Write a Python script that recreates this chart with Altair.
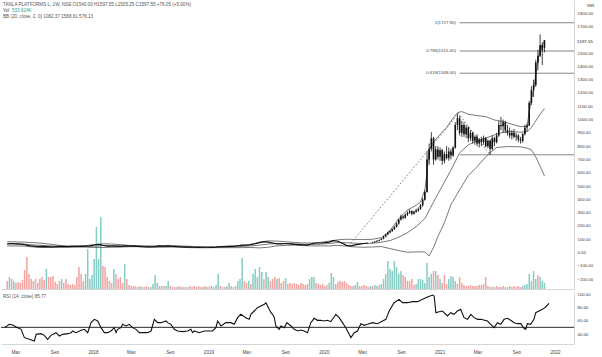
import altair as alt
import pandas as pd

FONT = "Liberation Sans"
TEAL = "#84ccc4"
RED = "#f3a2a0"
INK = "#111111"
BAND = "#555555"
START = pd.Timestamp("2017-03-20")


def wdate(w):
    return START + pd.Timedelta(days=float(w) * 7.0)


# ---------------- data (weekly) ----------------
# closes for the quiet period, every 2 weeks from week 0 to week 166
early_close = [66, 68, 66, 63, 60, 52, 48, 44, 46, 45,
               43, 44, 46, 44, 45, 46, 47, 46, 48, 50,
               57, 62, 55, 49, 48, 49, 47, 50, 49, 50,
               47, 44, 43, 42, 45, 50, 49, 50, 47, 44,
               42, 41, 41, 40, 39, 40, 40, 39, 41, 44,
               45, 46, 46, 51, 56, 55, 60, 66, 75, 82,
               78, 72, 65, 66, 68, 65, 62, 60, 58, 56,
               66, 72, 72, 74, 78, 90, 85, 70, 54, 50,
               58, 64, 68, 72]
early_weeks = list(range(0, 2 * len(early_close), 2))

# weekly candles from week 168 to week 247
candle_start = 168
c_open = [74, 78, 84, 88, 95, 104, 120, 135, 150, 162, 175, 192, 218, 248,
          272, 262, 285, 300, 312, 292, 306, 318, 328, 355, 398, 455, 700, 780,
          860, 700, 775, 720, 770, 690, 740, 710, 760, 730, 790, 960, 1010, 900,
          960, 890, 940, 860, 900, 840, 870, 820, 850, 830, 860, 800, 840, 780,
          860, 830, 880, 960, 950, 980, 920, 900, 880, 900, 870, 880, 850, 840,
          890, 940, 955, 1125, 1220, 1260, 1430, 1480, 1560, 1540]
c_high = [80, 86, 92, 98, 108, 125, 140, 158, 168, 182, 200, 225, 255, 285,
          280, 292, 310, 325, 318, 315, 330, 340, 365, 410, 470, 760, 820, 905,
          870, 800, 800, 790, 780, 760, 800, 790, 780, 800, 980, 1045, 1030, 990,
          980, 960, 950, 920, 910, 880, 890, 860, 870, 880, 870, 850, 850, 880,
          870, 900, 990, 1020, 1000, 990, 960, 940, 920, 930, 900, 890, 870, 900,
          960, 970, 1140, 1250, 1300, 1450, 1525, 1640, 1580, 1597.55]
c_low = [70, 75, 80, 85, 92, 100, 115, 130, 145, 155, 170, 188, 210, 240,
         250, 255, 275, 290, 280, 285, 298, 305, 320, 345, 390, 450, 660, 760,
         660, 690, 700, 690, 660, 670, 700, 690, 700, 720, 780, 920, 880, 870,
         870, 860, 830, 840, 820, 810, 800, 790, 800, 810, 790, 785, 735, 770,
         800, 820, 870, 920, 900, 900, 880, 860, 850, 860, 840, 830, 820, 825,
         880, 910, 950, 1110, 1170, 1245, 1370, 1470, 1410, 1505.25]
c_close = [78, 84, 88, 95, 104, 120, 135, 150, 162, 175, 192, 218, 248, 272,
           262, 285, 300, 312, 292, 306, 318, 328, 355, 398, 455, 700, 780, 860,
           700, 775, 720, 770, 690, 740, 710, 760, 730, 790, 960, 1010, 900, 960,
           890, 940, 860, 900, 840, 870, 820, 850, 830, 860, 800, 840, 780, 860,
           830, 880, 960, 950, 980, 920, 900, 880, 900, 870, 880, 850, 840, 890,
           940, 955, 1125, 1220, 1260, 1430, 1480, 1560, 1521.5, 1597.55]
candle_weeks = list(range(candle_start, candle_start + len(c_open)))

# weekly volume (+ = up week, - = down week), weeks 0..247
vol = [-8, 12, -10, 8, -6, -7, -6, -9, -19, -32,
       -15, -10, -8, -10, -6, -10, -12, -9, 20, -12,
       -12, -13, -7, -5, -8, 10, -6, -10, -5, -4,
       -5, -4, -12, -22, -15, -8, 15, 40, 10, 14,
       30, 62, 30, 72, -23, -22, -12, -8, -6, 20,
       -15, -10, -12, -6, 25, -10, -4, -3, -3, -3,
       -2, -3, 2, -2, -3, 2, -2, 5, 14, 6,
       -3, 3, -3, 3, 8, -3, -2, -2, 2, -3,
       -2, -2, 2, -2, -3, -2, -3, -2, -3, -2,
       2, -3, -2, -3, 3, -2, 4, 15, -3, -2,
       -2, 3, 6, -3, -2, 3, 8, 10, 31, -8,
       -6, 8, -5, 15, 20, 12, 22, 17, -10, 17,
       12, -8, -10, -12, 10, -11, -6, -8, 11, -5,
       -6, -5, -6, -5, -4, -6, -5, -4, -5, 10,
       12, 12, -6, -5, -4, -5, -3, -4, 6, 16,
       12, -5, -7, -8, -7, -8, -6, -4, -3, -3,
       4, 7, -3, -3, -4, -3, -2, 3, -3, 4,
       3, -4, 5, 10, 15, 28, 20, 18, 28, 22,
       15, 18, -14, -12, -8, -8, -10, -4, 5, 10,
       10, 9, 6, 26, 12, 15, -18, 18, -14, 10,
       -6, -14, -5, 10, 13, 12, 8, -5, -12, -6,
       -4, -3, -3, -4, -3, -3, -3, -4, -4, -5,
       -12, -3, -2, 2, -2, -3, -2, 2, -3, -2,
       -2, 3, -2, -3, -2, -3, -2, 3, 4, 5,
       15, 8, 18, 10, -14, 12, 8, 6]

# Bollinger bands (20, 2)
bb_w_early = list(range(0, 169, 4))
up_early = [82, 80, 78, 75, 70, 62, 54, 50, 50, 52,
            60, 66, 64, 60, 54, 52, 50, 50, 52, 52,
            50, 47, 44, 42, 43, 47, 49, 55, 62, 78,
            88, 86, 82, 76, 72, 72, 76, 86, 96, 100,
            98, 98, 100]
mid_early = [66, 65, 63, 58, 54, 50, 47, 45, 45, 46,
             48, 52, 52, 50, 49, 48, 46, 45, 46, 47,
             45, 42, 40, 39, 40, 42, 43, 46, 50, 56,
             64, 68, 68, 66, 62, 61, 63, 68, 75, 74,
             70, 68, 70]
low_early = [50, 50, 48, 42, 38, 38, 40, 40, 41, 41,
             38, 38, 40, 41, 44, 44, 42, 40, 40, 42,
             40, 37, 36, 36, 37, 37, 37, 37, 38, 35,
             40, 50, 54, 56, 52, 50, 50, 50, 54, 48,
             42, 40, 42]
up_w_late = [172, 176, 180, 184, 188, 190, 192, 193, 194, 196, 198, 202, 205, 207, 209,
             212, 216, 220, 224, 228, 232, 236, 239, 240, 241, 242, 243, 244, 245, 246, 247]
up_late = [112, 165, 255, 320, 355, 380, 470, 600, 772, 830, 870, 940, 1010, 1052, 1060,
           1040, 1030, 1022, 997, 985, 965, 947, 950, 1060, 1150, 1230, 1330, 1440, 1530, 1560, 1589]
mid_w_late = [172, 176, 180, 184, 188, 192, 196, 200, 204, 208, 212,
              216, 220, 224, 228, 232, 236, 239, 241, 243, 245, 247]
mid_late = [78, 90, 115, 150, 195, 255, 380, 500, 620, 750, 810,
            840, 860, 885, 905, 910, 905, 910, 940, 990, 1040, 1082]
low_w_late = [172, 176, 180, 184, 188, 192, 194, 196, 198, 201, 204, 208,
              212, 216, 220, 222, 225, 230, 236, 239, 241, 243, 245, 247]
low_late = [45, 30, 15, 2, 5, 5, -25, 40, 120, 225, 360, 472,
            580, 645, 720, 750, 790, 797, 795, 785, 772, 720, 650, 576]

# RSI (14): (week, value)
rsi_w = [1.0, 3.2, 4.7, 7.0, 8.5, 10.0, 12.3, 14.5, 15.3, 17.5, 19.0, 20.5, 22.0, 24.3, 25.8,
         27.3, 29.6, 31.1, 31.8, 33.3, 35.6, 37.1, 38.6, 40.1, 41.6, 43.1, 44.6, 46.1, 47.6,
         49.1, 50.6, 51.4, 52.1, 53.6, 54.4, 55.9, 57.4, 58.9, 60.4, 61.9, 63.4, 65.7, 67.2,
         68.7, 70.2, 71.7, 74.0, 74.7, 76.2, 77.7, 79.2, 81.5, 83.7, 85.2, 86.0, 86.7, 89.0,
         91.2, 92.8, 95.0, 96.5, 97.3, 98.8, 101.0, 103.3, 104.8, 106.3, 107.8, 110.0, 111.6,
         112.3, 113.8, 115.3, 116.8, 118.4, 119.1, 120.6, 121.4, 122.1, 122.9, 123.6, 125.1,
         125.9, 127.4, 128.6, 130.4, 131.9, 133.5, 134.9, 136.4, 137.9, 139.4, 140.9, 142.4,
         143.9, 145.4, 147.0, 148.4, 149.9, 150.7, 152.2, 153.7, 155.2, 156.7, 157.5, 159.0,
         160.5, 162.0, 163.5, 165.0, 167.3, 169.5, 171.8, 173.3, 174.8, 177.0, 179.3, 180.8,
         183.1, 185.3, 187.6, 189.9, 192.1, 194.4, 195.1, 195.9, 197.3, 198.9, 201.1, 202.6,
         204.1, 205.6, 207.1, 208.6, 210.2, 211.7, 213.1, 214.7, 216.2, 219.2, 220.7, 222.2,
         223.7, 225.2, 226.7, 228.2, 229.7, 231.2, 232.7, 234.2, 235.7, 236.5, 237.2, 238.7,
         240.2, 241.0, 242.5, 244.0, 245.5, 247.0]
rsi_v = [49.5, 54.5, 53.5, 49.5, 47, 34.5, 32, 29.5, 39.5, 40.5, 38, 32, 38, 42, 37,
         39.5, 40.5, 42, 44.5, 42, 45.5, 47, 42, 57, 62, 59.5, 49.5, 42, 42,
         44.5, 49.5, 42, 47, 49.5, 54.5, 52, 54.5, 49.5, 47, 42, 42, 42, 44.5,
         62, 57, 57, 59.5, 57, 54.5, 47, 44.5, 43.5, 44.5, 47, 42, 44.5, 42,
         44.5, 44.5, 44.5, 49.5, 59.5, 52, 57, 57, 54.5, 64.5, 69.5, 64.5, 62,
         69.5, 74.5, 79.5, 82, 84.5, 87, 77, 72, 69.5, 64.5, 52, 47,
         52, 49.5, 57, 52, 47, 44.5, 46, 44.5, 42, 57, 63.5, 60.5,
         60.5, 59.5, 60.5, 58.5, 65.5, 69.5, 64.5, 57, 49.5, 39.5, 34.5, 42,
         44.5, 55.5, 53, 54.5, 57, 55.5, 59.5, 62, 74.5, 87, 92, 87,
         87, 88.5, 88.5, 92, 95.5, 98.5, 97, 72, 73.5, 74.5, 67, 72,
         69.5, 74.5, 77, 64.5, 62, 69.5, 64.5, 62, 62, 59.5, 54.5, 49.5,
         57, 54.5, 62, 63.5, 60.5, 57, 55.5, 55.5, 48.5, 47, 55.5, 54.5,
         62, 72, 74.5, 77, 80.5, 85.77]

# Fibonacci extension and its trend line
fib_levels = [1727.90, 1515.40, 1348.40, 735.00]
fib_labels = ["1(1727.90)", "0.786(1515.40)", "0.618(1348.40)", ""]
fib_start_week = 208
fib_label_week = 206.3
trend_w = [157, 207.5, 222]
trend_p = [50, 1045, 735]

header_1 = "TANLA PLATFORMS L, 1W, NSE  O1540.00  H1597.55  L1505.25  C1597.55  +76.05 (+5.00%)"
header_vol = "Vol"
header_vol_val = "533.624K"
header_bb = "BB (20, close, 2, 0)  1082.37  1588.61  576.13"
rsi_title = "RSI (14, close)  85.77"
last_price = "1597.55"
currency = "INR"

# the 1600 label is hidden behind the last-price label, as in the reference
price_ticks = [v for v in range(-200, 1900, 100) if v != 1600]
rsi_ticks = [40, 60, 80, 100]
month_ticks = [(2017, 5), (2017, 9), (2018, 1), (2018, 5), (2018, 9), (2019, 1), (2019, 5),
               (2019, 9), (2020, 1), (2020, 5), (2020, 9), (2021, 1), (2021, 5), (2021, 9), (2022, 1)]

# ---------------- frames ----------------
early_df = pd.DataFrame({"t": [wdate(w) for w in early_weeks], "p": early_close})
cdf = pd.DataFrame({"t": [wdate(w) for w in candle_weeks], "o": c_open, "h": c_high,
                    "l": c_low, "c": c_close})
vol_df = pd.DataFrame({"t": [wdate(i) for i in range(len(vol))],
                       "v": [abs(v) for v in vol],
                       "d": ["up" if v > 0 else "down" for v in vol]})
up_df = pd.DataFrame({"t": [wdate(w) for w in bb_w_early + up_w_late], "p": up_early + up_late})
mid_df = pd.DataFrame({"t": [wdate(w) for w in bb_w_early + mid_w_late], "p": mid_early + mid_late})
low_df = pd.DataFrame({"t": [wdate(w) for w in bb_w_early + low_w_late], "p": low_early + low_late})
rsi_df = pd.DataFrame({"t": [wdate(w) for w in rsi_w], "r": rsi_v})
fib_df = pd.DataFrame({"p": fib_levels, "s": fib_labels,
                       "t": [wdate(fib_start_week)] * len(fib_levels),
                       "tl": [wdate(fib_label_week)] * len(fib_levels)})
trend_df = pd.DataFrame({"t": [wdate(w) for w in trend_w], "p": trend_p})

# ---------------- scales & axes ----------------
W = 573
H_MAIN = 289
H_RSI = 52

xs = alt.Scale(domain=[alt.DateTime(year=2017, month=3, date=16),
                       alt.DateTime(year=2022, month=3, date=2)])
ps = alt.Scale(domain=[-274, 1899], nice=False, zero=False)
rs = alt.Scale(domain=[25, 103], nice=False, zero=False)

mx_axis = alt.Axis(labels=False, ticks=False, domain=True, domainColor="#d6d6d6",
                   grid=False, title=None)
py_axis = alt.Axis(orient="right", values=price_ticks, format=".2f", ticks=False,
                   domain=True, domainColor="#d6d6d6", grid=False, title=None,
                   labelPadding=3, labelFontSize=4.3, labelColor="#333333", labelFont=FONT)
rx_axis = alt.Axis(values=[alt.DateTime(year=y, month=m, date=1) for y, m in month_ticks],
                   labelExpr="month(datum.value) == 0 ? timeFormat(datum.value, '%Y') : timeFormat(datum.value, '%b')",
                   ticks=False, domain=True, domainColor="#d6d6d6", grid=False, title=None,
                   labelFontSize=4.6, labelColor="#444444", labelPadding=5, labelFont=FONT)
ry_axis = alt.Axis(orient="right", values=rsi_ticks, format=".2f", ticks=False,
                   domain=True, domainColor="#d6d6d6", grid=False, title=None,
                   labelPadding=3, labelFontSize=4.3, labelColor="#333333", labelFont=FONT)

X = alt.X("t:T", scale=xs, axis=mx_axis)


def py(field):
    return alt.Y(field, scale=ps, axis=py_axis)


def label(s, x, y, color="#555555", size=4.6, align="left"):
    return alt.Chart(pd.DataFrame({"s": [s]})).mark_text(
        align=align, baseline="middle", fontSize=size, color=color, font=FONT
    ).encode(x=alt.value(x), y=alt.value(y), text="s:N")


# ---------------- main pane ----------------
vol_layer = alt.Chart(vol_df).mark_bar(size=1.5).encode(
    x=X,
    y=alt.Y("v:Q", scale=alt.Scale(domain=[0, H_MAIN], nice=False), axis=None),
    color=alt.Color("d:N", scale=alt.Scale(domain=["up", "down"], range=[TEAL, RED]), legend=None),
)

early_line = alt.Chart(early_df).mark_line(color=INK, strokeWidth=1.2).encode(x=X, y=py("p:Q"))
up_line = alt.Chart(up_df).mark_line(color=BAND, strokeWidth=0.8).encode(x=X, y=py("p:Q"))
mid_line = alt.Chart(mid_df).mark_line(color=BAND, strokeWidth=0.8).encode(x=X, y=py("p:Q"))
low_line = alt.Chart(low_df).mark_line(color=BAND, strokeWidth=0.8).encode(x=X, y=py("p:Q"))
wick = alt.Chart(cdf).mark_rule(color=INK, strokeWidth=0.8).encode(x=X, y=py("l:Q"), y2="h:Q")
body = alt.Chart(cdf).mark_bar(size=1.6, color=INK).encode(x=X, y=py("o:Q"), y2="c:Q")
fib_rule = alt.Chart(fib_df).mark_rule(color="#777777", strokeWidth=0.9).encode(
    x=X, x2=alt.value(W), y=py("p:Q"))
fib_text = alt.Chart(fib_df).mark_text(align="right", baseline="middle", fontSize=4.4,
                                       color="#444444", font=FONT).encode(
    x=alt.X("tl:T", scale=xs, axis=mx_axis), y=py("p:Q"), text="s:N")
trend = alt.Chart(trend_df).mark_line(color="#666666", strokeWidth=0.9,
                                      strokeDash=[1.5, 2]).encode(x=X, y=py("p:Q"))

price_group = alt.layer(
    up_line, mid_line, low_line, early_line, trend, fib_rule, fib_text, wick, body,
    label(header_1, 2, 4.5),
    label(header_vol, 2, 10.5),
    label(header_vol_val, 11, 10.5, color="#26a69a"),
    label(header_bb, 2, 16.5),
    label(currency, 586, 6, color="#333333", size=4.3),
    label(last_price, 576, 42, color="#222222", size=4.4),
)

main = alt.layer(vol_layer, price_group).resolve_scale(y="independent").properties(
    width=W, height=H_MAIN)

# ---------------- RSI pane ----------------
rsi_line = alt.Chart(rsi_df).mark_line(color=INK, strokeWidth=1.1).encode(
    x=alt.X("t:T", scale=xs, axis=rx_axis), y=alt.Y("r:Q", scale=rs, axis=ry_axis))
rule50 = alt.Chart(pd.DataFrame({"r": [50]})).mark_rule(color=INK, strokeWidth=0.9).encode(
    y=alt.Y("r:Q", scale=rs, axis=ry_axis))
rsi = alt.layer(rsi_line, rule50, label(rsi_title, 2, 4.5)).properties(width=W, height=H_RSI)

chart = alt.vconcat(main, rsi, spacing=2).properties(
    padding=0, background="white"
).configure_view(stroke=None).configure_axis(labelFont=FONT)

chart.save("out.html", embed_options={"renderer": "svg", "actions": False})
